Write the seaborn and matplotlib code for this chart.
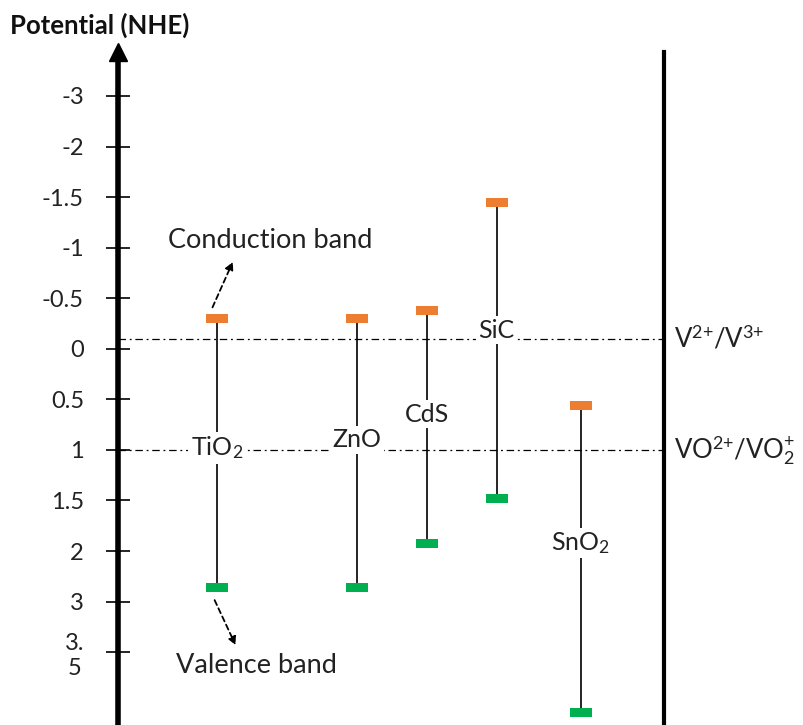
import matplotlib
matplotlib.use("Agg")
import matplotlib.pyplot as plt
from matplotlib.path import Path
import seaborn as sns
import numpy as np
import pandas as pd

# band edges vs NHE (V)
materials = ["TiO2", "ZnO", "CdS", "SiC", "SnO2"]
material_labels = ["TiO$_2$", "ZnO", "CdS", "SiC", "SnO$_2$"]
conduction = [-0.3, -0.3, -0.38, -1.45, 0.56]
valence = [2.73, 2.73, 1.93, 1.48, 4.1]
label_level = [0.98, 0.9, 0.645, -0.185, 1.92]

redox_levels = [-0.1, 1.0]
redox_labels = ["V$^{2{+}}$/V$^{3{+}}$", "VO$^{2{+}}$/VO$_2^{+}$"]

tick_values = [-3, -2, -1.5, -1, -0.5, 0, 0.5, 1, 1.5, 2, 3, 3.5]
tick_labels = ["-3", "-2", "-1.5", "-1", "-0.5", "0", "0.5", "1", "1.5", "2", "3", "3.\n5"]

# layout (column slots along x)
slots = [0, 2, 3, 4, 5.2]

# the drawn axis is not linear: ticks are equally spaced
grid_v = np.array([-5.0] + tick_values + [5.5])
grid_i = np.array([-2.0] + list(range(len(tick_values))) + [15.0])


def forward(v):
    return np.interp(v, grid_v, grid_i)


def inverse(i):
    return np.interp(i, grid_i, grid_v)


sns.set_theme(style="white")
plt.rcParams["font.family"] = ["Lato", "DejaVu Sans"]
plt.rcParams["mathtext.fontset"] = "custom"
plt.rcParams["mathtext.rm"] = "Lato"
plt.rcParams["mathtext.it"] = "Lato:italic"
plt.rcParams["mathtext.bf"] = "Lato:bold"

caps = pd.DataFrame({
    "slot": slots * 2,
    "potential": conduction + valence,
    "band": ["CB"] * len(slots) + ["VB"] * len(slots),
})

fig = plt.figure(figsize=(8.04, 7.25), dpi=100)
ax = fig.add_axes([118 / 804, 0, 546 / 804, 673 / 725])
ax.set_yscale("function", functions=(forward, inverse))
ax.set_ylim(4.22, -3.87)
ax.set_xlim(-1.41, 6.39)

for lvl in redox_levels:
    ax.axhline(lvl, color="black", lw=0.9, ls=(0, (6, 3, 1.5, 3)), zorder=1)

ax.vlines(slots, conduction, valence, color="black", lw=1.2, zorder=2)

rect = Path([(-11, -4.5), (11, -4.5), (11, 4.5), (-11, 4.5), (-11, -4.5)],
            [Path.MOVETO, Path.LINETO, Path.LINETO, Path.LINETO, Path.CLOSEPOLY])
sns.scatterplot(data=caps, x="slot", y="potential", hue="band",
                palette={"CB": "#ED7D31", "VB": "#00B050"},
                marker=rect, s=250, linewidth=0, legend=False, ax=ax, zorder=4)

for x, y, lab in zip(slots, label_level, material_labels):
    ax.text(x, y, lab, ha="center", va="center", fontsize=18, color="#222222",
            bbox=dict(boxstyle="square,pad=0.1", fc="white", ec="none"), zorder=5)

for lvl, lab in zip(redox_levels, redox_labels):
    ax.text(1.018, lvl, lab, transform=ax.get_yaxis_transform(), ha="left",
            va="center", fontsize=18.5, color="#222222", clip_on=False)

ax.annotate("", xy=(0.23, -0.86), xytext=(-0.06, -0.41),
            arrowprops=dict(arrowstyle="-|>", ls=(0, (3, 2)), lw=1.3, color="black",
                            mutation_scale=12, shrinkA=0, shrinkB=0))
ax.text(0.77, -1.075, "Conduction band", ha="center", va="center", fontsize=19.5,
        color="#222222")
ax.annotate("", xy=(0.27, 3.43), xytext=(-0.03, 2.97),
            arrowprops=dict(arrowstyle="-|>", ls=(0, (3, 2)), lw=1.3, color="black",
                            mutation_scale=12, shrinkA=0, shrinkB=0))
ax.text(0.57, 3.63, "Valence band", ha="center", va="center", fontsize=19.5,
        color="#222222")

ax.set_yticks(tick_values)
ax.set_yticklabels(tick_labels)
ax.set_xticks([])
ax.tick_params(axis="y", direction="inout", length=17, width=1.2, color="black",
               labelsize=17, pad=16, left=True)
for t in ax.get_yticklabels():
    t.set_color("#222222")
    if "\n" in t.get_text():
        t.set_multialignment("center")
        t.set_linespacing(1.25)

for side in ["top", "bottom"]:
    ax.spines[side].set_visible(False)
ax.spines["left"].set_linewidth(4)
ax.spines["left"].set_color("black")
ax.spines["right"].set_linewidth(3)
ax.spines["right"].set_color("black")
ax.plot([0], [1.0], marker="^", markersize=13, color="black",
        transform=ax.transAxes, clip_on=False)
ax.set_xlabel("")
ax.set_ylabel("")

fig.text(10 / 804, 1 - 25 / 725, "Potential (NHE)", fontsize=18.5, fontweight="bold",
         ha="left", va="center", color="#111111")

fig.savefig("out.png", dpi=100)
